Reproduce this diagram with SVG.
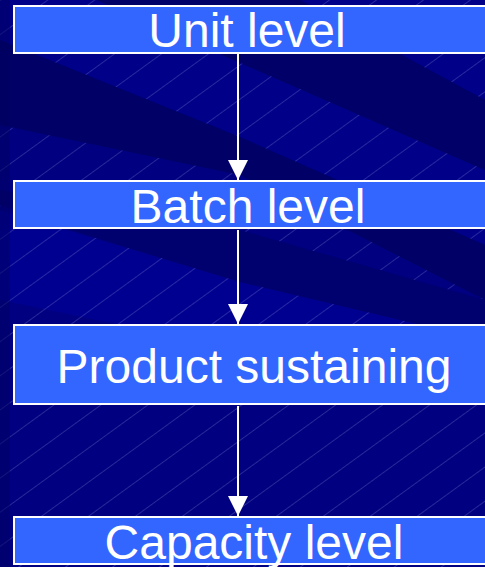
<svg xmlns="http://www.w3.org/2000/svg" width="485" height="567" viewBox="0 0 485 567">
  <defs>
    <!-- fine diagonal hatching of the slide background -->
    <pattern id="hatch" width="27.6" height="40" patternUnits="userSpaceOnUse" patternTransform="rotate(54)">
      <line x1="0.5" y1="0" x2="0.5" y2="40" stroke="#a8a8e8" stroke-width="0.7" stroke-opacity="0.35"/>
    </pattern>
    <marker id="head" viewBox="0 0 20 20" refX="20" refY="10" markerWidth="20" markerHeight="20" markerUnits="userSpaceOnUse" orient="auto">
      <path d="M0,0 L20,10 L0,20 z" fill="#ffffff"/>
    </marker>
    <style>
      .box { fill: #3366ff; stroke: #ffffff; stroke-width: 2; }
      .label { fill: #ffffff; font-family: "Liberation Sans", Arial, sans-serif; font-size: 48px; text-anchor: middle; }
      .link { stroke: #ffffff; stroke-width: 2; fill: none; marker-end: url(#head); }
    </style>
  </defs>

  <!-- background: navy with slanted bands -->
  <g id="background">
    <rect x="0" y="0" width="485" height="567" fill="#000080"/>
    <polygon points="0,0 485,0 485,170 0,-42" fill="#000072"/>
    <polygon points="300,0 485,0 485,100" fill="#000088"/>
    <polygon points="0,-42 485,170 485,245 0,40" fill="#000088"/>
    <polygon points="0,210 240,282 485,340 485,400 0,300" fill="#000090"/>
    <rect x="0" y="0" width="485" height="567" fill="url(#hatch)"/>
    <polygon points="0,40 240,137 485,245 485,300 240,175 0,125" fill="#000066"/>
    <polygon points="97,0 300,0 485,100 485,170" fill="#000068"/>
    <polygon points="70,230 240,282 485,340 485,300 240,230 0,190 0,205" fill="#00006e"/>
    <rect x="0" y="0" width="10" height="567" fill="#000060" opacity="0.5"/>
  </g>

  <!-- connectors -->
  <g id="connectors">
    <line class="link" x1="238" y1="54" x2="238" y2="180"/>
    <line class="link" x1="238" y1="230" x2="238" y2="324"/>
    <line class="link" x1="238" y1="406" x2="238" y2="516"/>
  </g>

  <g id="unit-level">
    <rect class="box" x="14" y="6" width="480" height="47"/>
    <text class="label" x="247" y="47">Unit level</text>
  </g>
  <g id="batch-level">
    <rect class="box" x="14" y="181" width="480" height="47"/>
    <text class="label" x="248" y="222.5">Batch level</text>
  </g>
  <g id="product-sustaining">
    <rect class="box" x="14" y="325" width="480" height="79"/>
    <text class="label" x="254" y="382.5">Product sustaining</text>
  </g>
  <g id="capacity-level">
    <rect class="box" x="14" y="517" width="480" height="47"/>
    <text class="label" x="254" y="558.5">Capacity level</text>
  </g>
</svg>
